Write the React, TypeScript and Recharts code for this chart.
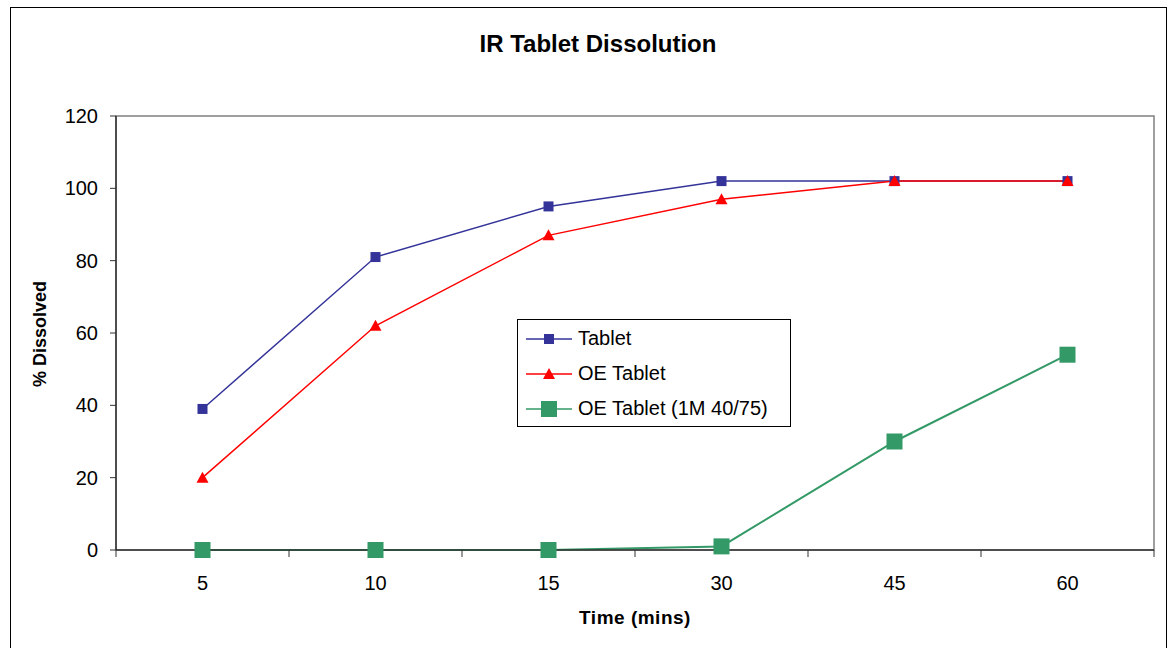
import {
    LineChart,
    Line,
    XAxis,
    YAxis,
    ReferenceArea
} from 'recharts';

const times = ['5', '10', '15', '30', '45', '60'];
const tablet = [39, 81, 95, 102, 102, 102];
const oeTablet = [20, 62, 87, 97, 102, 102];
const oeTabletAged = [0, 0, 0, 1, 30, 54];
const yTicks = [0, 20, 40, 60, 80, 100, 120];

const data = times.map((t, i) => ({
    time: t,
    tablet: tablet[i],
    oe: oeTablet[i],
    oeAged: oeTabletAged[i]
}));

const FONT = '"Liberation Sans", Arial, sans-serif';
const BLUE = '#333399';
const RED = '#FF0000';
const GREEN = '#339966';
const AXIS = '#333333';

const SquareDot = (size: number, color: string) => (props: any) => {
    const { cx, cy, index } = props;
    if (cx == null || cy == null) return null;
    return <rect key={index} x={cx - size / 2} y={cy - size / 2} width={size} height={size} fill={color} />;
};

const TriangleDot = (props: any) => {
    const { cx, cy, index } = props;
    if (cx == null || cy == null) return null;
    return (
        <polygon
            key={index}
            points={`${cx},${cy - 6} ${cx - 6},${cy + 5} ${cx + 6},${cy + 5}`}
            fill={RED}
        />
    );
};

// Excel-style category axis: tick marks between categories, labels centred
const XTick = (props: any) => {
    const { x, y, payload } = props;
    const off = payload.offset || 0;
    const isLast = payload.value === times[times.length - 1];
    return (
        <g>
            <line x1={x - off} x2={x - off} y1={y} y2={y + 7} stroke={AXIS} />
            {isLast && <line x1={x + off} x2={x + off} y1={y} y2={y + 7} stroke={AXIS} />}
            <text x={x} y={y + 40} textAnchor="middle" fontSize={20} fontFamily={FONT} fill="#000">
                {payload.value}
            </text>
        </g>
    );
};

const legendItems = [
    { label: 'Tablet', color: BLUE, marker: 'sq', size: 10 },
    { label: 'OE Tablet', color: RED, marker: 'tri', size: 12 },
    { label: 'OE Tablet (1M 40/75)', color: GREEN, marker: 'sq', size: 16 }
];

const LegendBox = () => (
    <div
        style={{
            position: 'absolute',
            left: 517,
            top: 319,
            width: 274,
            height: 108,
            border: '1px solid #000',
            background: '#fff',
            boxSizing: 'border-box',
            paddingTop: 1,
            fontFamily: FONT,
            fontSize: 20
        }}
    >
        {legendItems.map((it) => (
            <div key={it.label} style={{ display: 'flex', alignItems: 'center', height: 35 }}>
                <svg width={60} height={20} style={{ marginLeft: 6, flex: 'none' }}>
                    <line x1={2} x2={48} y1={10} y2={10} stroke={it.color} strokeWidth={1.5} />
                    {it.marker === 'sq' ? (
                        <rect x={25 - it.size / 2} y={10 - it.size / 2} width={it.size} height={it.size} fill={it.color} />
                    ) : (
                        <polygon points="25,4 19,15 31,15" fill={it.color} />
                    )}
                </svg>
                <span style={{ marginLeft: -6, whiteSpace: 'nowrap' }}>{it.label}</span>
            </div>
        ))}
    </div>
);

export default function App() {
    return (
        <div style={{ position: 'absolute', left: 0, top: 0, width: 1171, height: 648, background: '#fff', overflow: 'hidden' }}>
            <div
                style={{
                    position: 'absolute',
                    left: 10,
                    top: 7,
                    width: 1157,
                    height: 660,
                    border: '1px solid #000',
                    boxSizing: 'border-box'
                }}
            />
            <div
                style={{
                    position: 'absolute',
                    left: 0,
                    width: 1196,
                    top: 30,
                    textAlign: 'center',
                    fontFamily: FONT,
                    fontWeight: 'bold',
                    fontSize: 24
                }}
            >
                IR Tablet Dissolution
            </div>
            <div
                style={{
                    position: 'absolute',
                    left: 116,
                    width: 1038,
                    top: 607,
                    textAlign: 'center',
                    fontFamily: FONT,
                    fontWeight: 'bold',
                    fontSize: 19,
                    letterSpacing: 0.5
                }}
            >
                Time (mins)
            </div>
            <div
                style={{
                    position: 'absolute',
                    left: 40,
                    top: 334,
                    transform: 'translate(-50%, -50%) rotate(-90deg)',
                    whiteSpace: 'nowrap',
                    fontFamily: FONT,
                    fontWeight: 'bold',
                    fontSize: 18
                }}
            >
                % Dissolved
            </div>
            <div style={{ position: 'absolute', left: 0, top: 0 }}>
                <LineChart width={1171} height={648} data={data} margin={{ top: 116, right: 17, bottom: 0, left: 56 }}>
                    <ReferenceArea y1={0} y2={120} fill="none" stroke="#808080" strokeWidth={1.5} />
                    <XAxis
                        dataKey="time"
                        scale="band"
                        height={98}
                        tickLine={false}
                        tickSize={0}
                        tickMargin={0}
                        axisLine={{ stroke: AXIS, strokeWidth: 1.5 }}
                        tick={<XTick />}
                        interval={0}
                    />
                    <YAxis
                        width={60}
                        domain={[0, 120]}
                        ticks={yTicks}
                        interval={0}
                        tickSize={6}
                        tickMargin={12}
                        axisLine={{ stroke: AXIS, strokeWidth: 1.5 }}
                        tickLine={{ stroke: AXIS }}
                        tick={{ fontSize: 20, fontFamily: FONT, fill: '#000' }}
                    />
                    <Line
                        dataKey="oeAged"
                        name="OE Tablet (1M 40/75)"
                        stroke={GREEN}
                        strokeWidth={2}
                        dot={SquareDot(16, GREEN)}
                        activeDot={false}
                        isAnimationActive={false}
                    />
                    <Line
                        dataKey="tablet"
                        name="Tablet"
                        stroke={BLUE}
                        strokeWidth={1.5}
                        dot={SquareDot(10, BLUE)}
                        activeDot={false}
                        isAnimationActive={false}
                    />
                    <Line
                        dataKey="oe"
                        name="OE Tablet"
                        stroke={RED}
                        strokeWidth={1.5}
                        dot={TriangleDot}
                        activeDot={false}
                        isAnimationActive={false}
                    />
                </LineChart>
            </div>
            <LegendBox />
        </div>
    );
}
